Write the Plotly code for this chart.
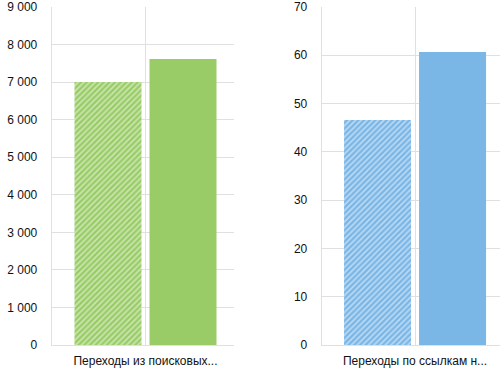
import plotly.graph_objects as go

cat_left = ["Переходы из поисковых..."]
cat_right = ["Переходы по ссылкам н..."]
left_prev = [7003]
left_curr = [7615]
right_prev = [46.6]
right_curr = [60.7]
left_ticks = [0, 1000, 2000, 3000, 4000, 5000, 6000, 7000, 8000, 9000]
right_ticks = [0, 10, 20, 30, 40, 50, 60, 70]

green = "#99cc66"
blue = "#7ab6e6"
grid = "#e0e0e0"
font = dict(family="Liberation Sans, Arial, sans-serif", size=12, color="#111111")

fig = go.Figure()

def pat():
    return dict(shape="/", fgcolor="white", fillmode="overlay", size=4, solidity=0.4)

fig.add_trace(go.Bar(x=cat_left, y=left_prev, marker=dict(color=green, pattern=pat(), line_width=0),
                     xaxis="x", yaxis="y", showlegend=False, hoverinfo="skip"))
fig.add_trace(go.Bar(x=cat_left, y=left_curr, marker=dict(color=green, line_width=0),
                     xaxis="x", yaxis="y", showlegend=False, hoverinfo="skip"))
fig.add_trace(go.Bar(x=cat_right, y=right_prev, marker=dict(color=blue, pattern=pat(), line_width=0),
                     xaxis="x2", yaxis="y2", showlegend=False, hoverinfo="skip"))
fig.add_trace(go.Bar(x=cat_right, y=right_curr, marker=dict(color=blue, line_width=0),
                     xaxis="x2", yaxis="y2", showlegend=False, hoverinfo="skip"))

xcommon = dict(type="category", showgrid=True, gridcolor=grid, gridwidth=1, showline=True,
               linecolor=grid, linewidth=1, ticks="", zeroline=False, ticklabelstandoff=5,
               tickfont=font, fixedrange=True)
ycommon = dict(showgrid=True, gridcolor=grid, gridwidth=1, showline=True, linecolor=grid,
               linewidth=1, ticks="", zeroline=False, ticklabelstandoff=11, tickfont=font,
               fixedrange=True)

fig.update_layout(
    width=500, height=375,
    margin=dict(l=0, r=0, t=7, b=30),
    paper_bgcolor="white", plot_bgcolor="white",
    barmode="group", bargap=0.177, bargroupgap=0.107,
    separators=", ",
    font=font,
    xaxis=dict(domain=[0.1034, 0.468], range=[-0.5145, 0.4855], anchor="y", **xcommon),
    yaxis=dict(range=[0, 9000], tickvals=left_ticks, tickformat=",d", anchor="x", **ycommon),
    xaxis2=dict(domain=[0.6434, 1.0], range=[-0.512, 0.466], anchor="y2", **xcommon),
    yaxis2=dict(range=[0, 70], tickvals=right_ticks, anchor="x2", **ycommon),
)

fig.write_html("out.html", config={"displayModeBar": False},
               post_script="document.body.style.margin='0';document.body.style.overflow='hidden';")
